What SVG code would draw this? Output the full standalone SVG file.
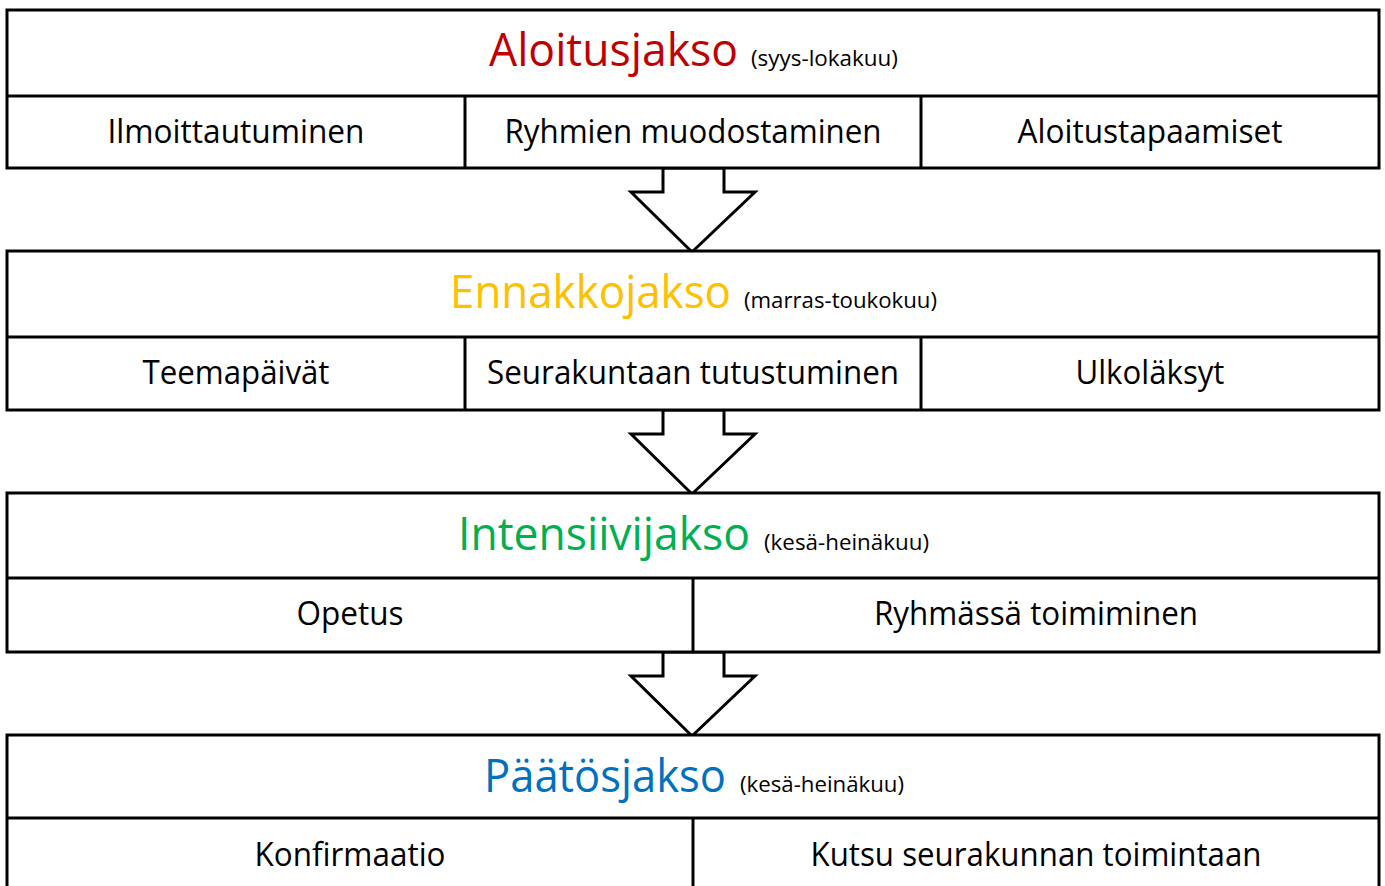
<svg xmlns="http://www.w3.org/2000/svg" width="1385" height="886" viewBox="0 0 1385 886">
<style>
.box{fill:#fff;stroke:#000;stroke-width:3}
.ln{stroke:#000;stroke-width:3}
.t{font-family:"Open Sans","Liberation Sans",sans-serif;fill:#000}
.cell{font-size:33px;text-anchor:middle}
.ttl{font-size:46px}
.sub{font-size:21px}
.arr{fill:#fff;stroke:#000;stroke-width:3;stroke-linejoin:miter}
</style>
<rect width="1385" height="886" fill="#fff"/>
<g id="connectors">
<polygon class="arr" points="663,168 663,192 631,192 692,252 755,192 724,192 724,168"/>
<polygon class="arr" points="663,410 663,434 631,434 692,494 755,434 724,434 724,410"/>
<polygon class="arr" points="663,652 663,676 631,676 692,736 755,676 724,676 724,652"/>
</g>
<g id="aloitusjakso">
<rect class="box" x="7" y="10" width="1372" height="158"/>
<line class="ln" x1="7" y1="96" x2="1379" y2="96"/>
<line class="ln" x1="465" y1="96" x2="465" y2="168"/>
<line class="ln" x1="921" y1="96" x2="921" y2="168"/>
<text class="t ttl" x="489" y="66" textLength="249" lengthAdjust="spacingAndGlyphs" style="fill:#C00000">Aloitusjakso</text>
<text class="t sub" x="751" y="66" textLength="147" lengthAdjust="spacingAndGlyphs">(syys-lokakuu)</text>
<text class="t cell" x="236" y="143" textLength="257" lengthAdjust="spacingAndGlyphs">Ilmoittautuminen</text>
<text class="t cell" x="693" y="143" textLength="377" lengthAdjust="spacingAndGlyphs">Ryhmien muodostaminen</text>
<text class="t cell" x="1150" y="143" textLength="265" lengthAdjust="spacingAndGlyphs">Aloitustapaamiset</text>
</g>
<g id="ennakkojakso">
<rect class="box" x="7" y="251" width="1372" height="159"/>
<line class="ln" x1="7" y1="337" x2="1379" y2="337"/>
<line class="ln" x1="465" y1="337" x2="465" y2="410"/>
<line class="ln" x1="921" y1="337" x2="921" y2="410"/>
<text class="t ttl" x="450" y="308" textLength="281" lengthAdjust="spacingAndGlyphs" style="fill:#FFC000">Ennakkojakso</text>
<text class="t sub" x="744" y="308" textLength="193" lengthAdjust="spacingAndGlyphs">(marras-toukokuu)</text>
<text class="t cell" x="236" y="384" textLength="187" lengthAdjust="spacingAndGlyphs">Teemapäivät</text>
<text class="t cell" x="693" y="384" textLength="412" lengthAdjust="spacingAndGlyphs">Seurakuntaan tutustuminen</text>
<text class="t cell" x="1150" y="384" textLength="149" lengthAdjust="spacingAndGlyphs">Ulkoläksyt</text>
</g>
<g id="intensiivijakso">
<rect class="box" x="7" y="493" width="1372" height="159"/>
<line class="ln" x1="7" y1="578" x2="1379" y2="578"/>
<line class="ln" x1="693" y1="578" x2="693" y2="652"/>
<text class="t ttl" x="458" y="550" textLength="292" lengthAdjust="spacingAndGlyphs" style="fill:#00B050">Intensiivijakso</text>
<text class="t sub" x="764" y="550" textLength="165" lengthAdjust="spacingAndGlyphs">(kesä-heinäkuu)</text>
<text class="t cell" x="350" y="625" textLength="107" lengthAdjust="spacingAndGlyphs">Opetus</text>
<text class="t cell" x="1036" y="625" textLength="324" lengthAdjust="spacingAndGlyphs">Ryhmässä toimiminen</text>
</g>
<g id="paatosjakso">
<rect class="box" x="7" y="735" width="1372" height="170"/>
<line class="ln" x1="7" y1="818" x2="1379" y2="818"/>
<line class="ln" x1="693" y1="818" x2="693" y2="905"/>
<text class="t ttl" x="484" y="792" textLength="242" lengthAdjust="spacingAndGlyphs" style="fill:#0070C0">Päätösjakso</text>
<text class="t sub" x="740" y="792" textLength="164" lengthAdjust="spacingAndGlyphs">(kesä-heinäkuu)</text>
<text class="t cell" x="350" y="866" textLength="191" lengthAdjust="spacingAndGlyphs">Konfirmaatio</text>
<text class="t cell" x="1036" y="866" textLength="451" lengthAdjust="spacingAndGlyphs">Kutsu seurakunnan toimintaan</text>
</g>
</svg>
